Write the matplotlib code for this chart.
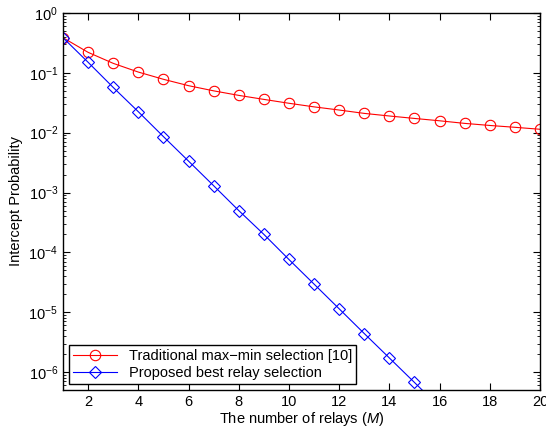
import matplotlib
matplotlib.use('Agg')
import matplotlib.pyplot as plt
from matplotlib.ticker import LogLocator, NullFormatter

plt.rcParams['font.family'] = ['Liberation Sans', 'DejaVu Sans']
plt.rcParams['mathtext.fontset'] = 'custom'
plt.rcParams['mathtext.rm'] = 'Liberation Sans'
plt.rcParams['mathtext.it'] = 'Liberation Sans:italic'

relays = list(range(1, 21))
traditional = [0.386, 0.22, 0.144, 0.103, 0.078, 0.061, 0.050, 0.042, 0.036, 0.031,
               0.027, 0.0239, 0.021, 0.019, 0.0173, 0.0158, 0.0143, 0.0132, 0.0123, 0.0114]
relays_best = list(range(1, 17))
proposed = [0.386, 0.15, 0.057, 0.0224, 0.0086, 0.00335, 0.0013, 5.0e-4, 2.0e-4, 7.6e-5,
            2.95e-5, 1.14e-5, 4.4e-6, 1.72e-6, 6.7e-7, 2.6e-7]

fig = plt.figure(figsize=(5.46, 4.30), dpi=100)
ax = fig.add_axes([0.1154, 0.093, 0.8736, 0.8768])

ax.semilogy(relays, traditional, '-o', color='red', lw=0.8, ms=7.5, mfc='none', mew=0.8,
            label='Traditional max\u2212min selection [10]')
ax.semilogy(relays_best, proposed, '-D', color='blue', lw=0.8, ms=6, mfc='none', mew=0.8,
            label='Proposed best relay selection')

ax.set_xlim(1, 20)
ax.set_ylim(10 ** -6.3, 1)
ax.set_xticks(range(2, 21, 2))
ax.yaxis.set_major_locator(LogLocator(base=10, numticks=10))
ax.yaxis.set_minor_locator(LogLocator(base=10, subs=range(2, 10), numticks=20))
ax.yaxis.set_minor_formatter(NullFormatter())
ax.tick_params(which='both', direction='in', top=True, right=True, labelsize=10.5)
ax.tick_params(which='major', length=5)
ax.tick_params(which='minor', length=2.5)
for s in ax.spines.values():
    s.set_linewidth(1.0)

ax.set_xlabel('The number of relays ($M$)', fontsize=10.5, labelpad=1)
ax.set_ylabel('Intercept Probability', fontsize=10.5)

leg = ax.legend(loc='lower left', fontsize=10.5, fancybox=False, framealpha=1,
                edgecolor='black', borderaxespad=0.4, handlelength=3, borderpad=0.3,
                labelspacing=0.2)
leg.get_frame().set_linewidth(1.0)

fig.savefig('out.png', dpi=100)
